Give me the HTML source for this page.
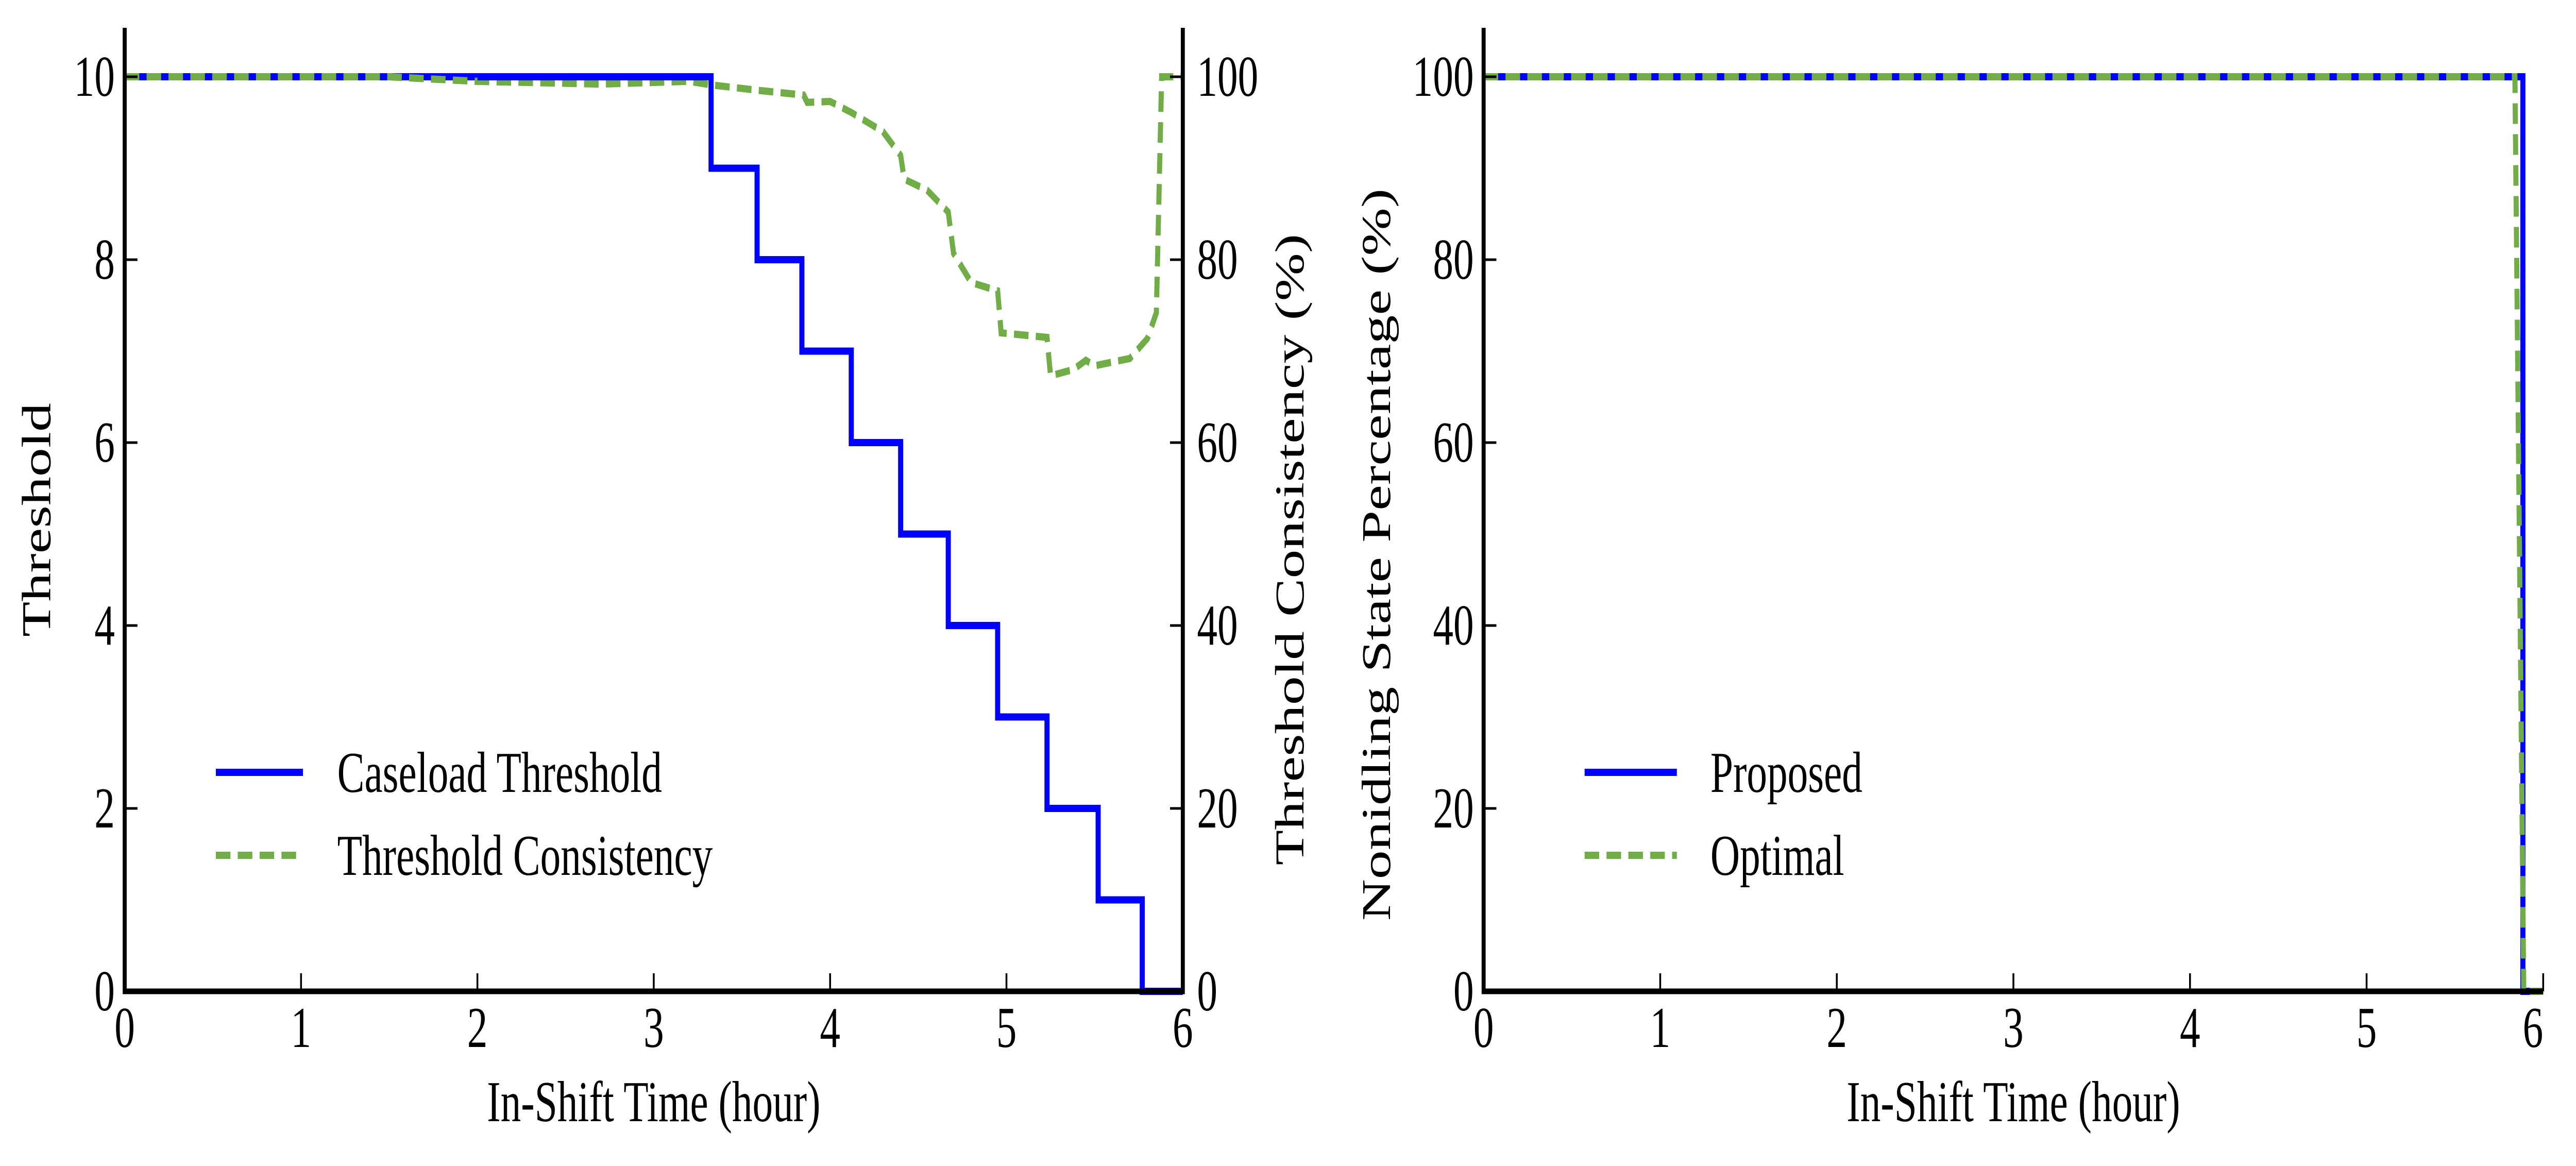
<!DOCTYPE html>
<html><head><meta charset="utf-8"><style>
html,body{margin:0;padding:0;background:#fff;width:100%;height:100%;overflow:hidden}
svg{display:block;position:absolute;left:0;top:0;width:100vw;height:100vh}
text{font-family:"Liberation Serif",serif;fill:#000}
</style></head><body>
<svg id="s" viewBox="0 0 7065 2263" preserveAspectRatio="none" xmlns="http://www.w3.org/2000/svg">
<g id="p1"></g>
<g id="p2"></g>
</svg>
<script>
const xTicks=[0,1,2,3,4,5,6];
const yLeftTicks=[0,2,4,6,8,10];
const yPctTicks=[0,20,40,60,80,100];
const caseloadX=[0,3.325,3.586,3.84,4.12,4.40,4.67,4.95,5.23,5.52,5.77,6];
const caseloadY=[10,9,8,7,6,5,4,3,2,1,0,0];
const consX=[0,1.5,2,2.7,3.2,3.33,3.6,3.85,3.87,4.0,4.12,4.3,4.4,4.42,4.55,4.67,4.7,4.8,4.95,4.97,5.23,5.25,5.38,5.45,5.5,5.7,5.8,5.85,5.88,6];
const consY=[100,100,99.5,99.2,99.5,99.1,98.5,98,97.2,97.3,96.1,94,91.4,88.8,87.6,85.2,80.7,77.5,76.6,72,71.5,67.3,68,69,68.4,69.2,71.4,74.2,100,100];
const propX=[0,5.885,5.885,6];
const propY=[100,100,0,0];
const optX=[0,5.84,5.89,6];
const optY=[100,100,0,0];

const NS="http://www.w3.org/2000/svg";
function el(parent,tag,attrs,txt){const e=document.createElementNS(NS,tag);for(const k in attrs)e.setAttribute(k,attrs[k]);if(txt!==undefined)e.textContent=txt;parent.appendChild(e);return e;}
const FS=112;
function stepPath(xs,ys,sx,sy,step){
  let d="";
  for(let i=0;i<xs.length;i++){
    const X=sx(xs[i]),Y=sy(ys[i]);
    if(i===0)d+="M"+X+","+Y;
    else if(step){d+="L"+X+","+sy(ys[i-1])+"L"+X+","+Y;}
    else d+="L"+X+","+Y;
  }
  return d;
}
(function(){
  const g=document.getElementById('p1');
  const X0=342,X1=3244,Y0=1924,Y10=149,TOP=54;
  const sx=v=>X0+(X1-X0)*v/6, sy=v=>Y0-(Y0-Y10)*v/10, sp=v=>Y0-(Y0-Y10)*v/100;
  const cons=el(g,'path',{d:stepPath(consX,consY,sx,sp,false),fill:'none',stroke:'#70ad47','stroke-width':14,'stroke-dasharray':'40,20'});
  
  const cl=el(g,'path',{d:stepPath(caseloadX,caseloadY,sx,sy,true),fill:'none',stroke:'#0000ff','stroke-width':14});
  
  el(g,'path',{d:stepPath(consX.slice(0,3),consY.slice(0,3),sx,sp,false),fill:'none',stroke:'#70ad47','stroke-width':14,'stroke-dasharray':'40,20'});
  const ax=el(g,'path',{d:`M${X0},${TOP}L${X0},${Y0}L${X1},${Y0}L${X1},${TOP}`,fill:'none',stroke:'#000','stroke-width':11});
  
  xTicks.forEach(v=>{el(g,'line',{x1:sx(v),x2:sx(v),y1:Y0,y2:Y0-35,stroke:'#000','stroke-width':5});
    const t=el(g,'text',{x:sx(v),y:2032,'font-size':FS,'text-anchor':'middle'},v);});
  yLeftTicks.forEach(v=>{el(g,'line',{x1:X0,x2:X0+35,y1:sy(v),y2:sy(v),stroke:'#000','stroke-width':5});
    const t=el(g,'text',{x:315,y:sy(v)+37,'font-size':FS,'text-anchor':'end'},v);});
  yPctTicks.forEach(v=>{el(g,'line',{x1:X1,x2:X1-35,y1:sp(v),y2:sp(v),stroke:'#000','stroke-width':5});
    const t=el(g,'text',{x:3283,y:sp(v)+37,'font-size':FS,'text-anchor':'start'},v);});
  let t=el(g,'text',{x:(X0+X1)/2,y:2176,'font-size':FS,'text-anchor':'middle'},'In-Shift Time (hour)');
  t=el(g,'text',{x:0,y:0,'font-size':FS,'text-anchor':'middle',transform:`translate(138,${(Y0+TOP)/2+20}) rotate(-90)`},'Threshold');
  t=el(g,'text',{x:0,y:0,'font-size':FS,'text-anchor':'middle',transform:`translate(3575,${(Y0+Y10)/2+30}) rotate(-90)`},'Threshold Consistency (%)');
  const l1=el(g,'g',{});
  el(l1,'line',{x1:592,x2:831,y1:1499,y2:1499,stroke:'#0000ff','stroke-width':14});
  el(l1,'text',{x:925,y:1537,'font-size':FS},'Caseload Threshold');
  const l2=el(g,'g',{});
  el(l2,'line',{x1:592,x2:831,y1:1660,y2:1660,stroke:'#70ad47','stroke-width':14,'stroke-dasharray':'40,20'});
  el(l2,'text',{x:925,y:1698,'font-size':FS},'Threshold Consistency');
})();
(function(){
  const g=document.getElementById('p2');
  const X0=4069,X1=6975,Y0=1924,Y100=149,TOP=54;
  const sx=v=>X0+(X1-X0)*v/6, sp=v=>Y0-(Y0-Y100)*v/100;
  const pr=el(g,'path',{d:stepPath(propX,propY,sx,sp,false),fill:'none',stroke:'#0000ff','stroke-width':14});
  
  const op=el(g,'path',{d:stepPath(optX,optY,sx,sp,false),fill:'none',stroke:'#70ad47','stroke-width':14,'stroke-dasharray':'40,20'});
  
  const ax=el(g,'path',{d:`M${X0},${TOP}L${X0},${Y0}L${X1},${Y0}`,fill:'none',stroke:'#000','stroke-width':11});
  
  xTicks.forEach(v=>{el(g,'line',{x1:sx(v),x2:sx(v),y1:Y0,y2:Y0-35,stroke:'#000','stroke-width':5});
    const t=el(g,'text',{x:sx(v),y:2032,'font-size':FS,'text-anchor':v===6?'end':'middle'},v);});
  yPctTicks.forEach(v=>{el(g,'line',{x1:X0,x2:X0+35,y1:sp(v),y2:sp(v),stroke:'#000','stroke-width':5});
    const t=el(g,'text',{x:4042,y:sp(v)+37,'font-size':FS,'text-anchor':'end'},v);});
  let t=el(g,'text',{x:(X0+X1)/2,y:2176,'font-size':FS,'text-anchor':'middle'},'In-Shift Time (hour)');
  t=el(g,'text',{x:0,y:0,'font-size':FS,'text-anchor':'middle',transform:`translate(3812,${(Y0+Y100)/2+40}) rotate(-90)`},'Nonidling State Percentage (%)');
  const l1=el(g,'g',{});
  el(l1,'line',{x1:4346,x2:4599,y1:1499,y2:1499,stroke:'#0000ff','stroke-width':14});
  el(l1,'text',{x:4691,y:1537,'font-size':FS},'Proposed');
  const l2=el(g,'g',{});
  el(l2,'line',{x1:4346,x2:4599,y1:1660,y2:1660,stroke:'#70ad47','stroke-width':14,'stroke-dasharray':'40,20'});
  el(l2,'text',{x:4691,y:1698,'font-size':FS},'Optimal');
})();
</script>
</body></html>
